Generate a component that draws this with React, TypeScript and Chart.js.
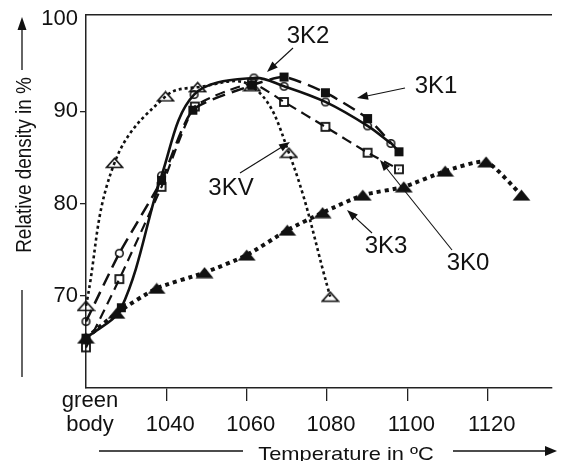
import React, { useEffect, useRef } from 'react';
import { Chart, registerables } from 'chart.js';

Chart.register(...registerables);

// ---- axes ----
const X_MIN = 1020; // "green body" position
const X_MAX = 1136;
const Y_MIN = 60;
const Y_MAX = 100.4;
const xTickValues = [1020, 1040, 1060, 1080, 1100, 1120];
const yTickValues = [70, 80, 90, 100];
const greenBodyLabel = ['green', 'body'];

// ---- series (temperature in °C, relative density in %) ----
const temp3KV = [1020, 1027.1, 1039.8, 1047.8, 1061.3, 1070.5, 1080.8];
const dens3KV = [68.9, 84.4, 91.6, 92.6, 92.7, 85.5, 69.9];

const temp3K3 = [1020, 1027.6, 1037.6, 1049.5, 1060.0, 1070.1, 1078.9, 1088.9, 1099.1, 1109.4, 1119.6, 1128.4];
const dens3K3 = [65.4, 68.1, 70.8, 72.5, 74.4, 77.1, 79.0, 80.9, 81.8, 83.5, 84.5, 80.9];

const temp3K2 = [1020, 1028.8, 1038.8, 1046.9, 1061.8, 1069.3, 1079.6, 1090.1, 1095.9];
const dens3K2 = [65.4, 68.7, 83.0, 91.8, 93.6, 92.7, 91.0, 88.4, 86.5];

const temp3K1 = [1020, 1028.3, 1038.8, 1046.6, 1061.3, 1069.3, 1079.6, 1090.1, 1097.9];
const dens3K1 = [67.2, 74.6, 82.5, 90.1, 92.8, 93.7, 92.0, 89.2, 85.6];

const temp3K0 = [1020, 1028.3, 1038.8, 1047.1, 1061.3, 1069.3, 1079.6, 1090.1, 1097.9];
const dens3K0 = [64.4, 71.8, 81.8, 90.5, 93.0, 91.0, 88.3, 85.5, 83.7];

// marker kinds per point (style)
const marks3K2 = ['fsq', 'fsq', 'ocirc', 'ocirc', 'ocirc', 'ocirc', 'ocirc', 'ocirc', 'ocirc'];
const marks3K1 = ['ocirc', 'ocirc', 'fsq', 'fsq', 'fsq', 'fsq', 'fsq', 'fsq', 'fsq'];

// ---- annotation labels (pixel layout) ----
const annotations = [
  { text: '3K2', x: 308, y: 43, from: [293, 48], to: [267, 72] },
  { text: '3K1', x: 436, y: 93, from: [405, 88], to: [357, 98] },
  { text: '3KV', x: 231, y: 195, from: [240, 173], to: [290, 142] },
  { text: '3K3', x: 386, y: 253, from: [372, 233], to: [347, 210] },
  { text: '3K0', x: 468, y: 270, from: [452, 250], to: [380, 160] },
];

const INK = '#111';
const FONT = "'Liberation Sans', Arial, Helvetica, sans-serif";

function makeMarker(kind: string): HTMLCanvasElement {
  const c = document.createElement('canvas');
  const ctx = c.getContext('2d')!;
  if (kind === 'osq') {
    c.width = 12; c.height = 12;
    ctx.strokeStyle = INK; ctx.lineWidth = 1.8;
    ctx.strokeRect(2, 2, 8, 8);
  } else if (kind === 'fsq') {
    c.width = 11; c.height = 11;
    ctx.fillStyle = INK;
    ctx.fillRect(1, 1, 9, 9);
  } else if (kind === 'ocirc') {
    c.width = 11; c.height = 11;
    ctx.strokeStyle = INK; ctx.lineWidth = 1.6;
    ctx.beginPath(); ctx.arc(5.5, 5.5, 3.8, 0, Math.PI * 2); ctx.stroke();
  } else if (kind === 'otri') {
    c.width = 19; c.height = 12;
    ctx.strokeStyle = INK; ctx.lineWidth = 1.7; ctx.lineJoin = 'miter';
    ctx.beginPath(); ctx.moveTo(1.5, 10.5); ctx.lineTo(9.5, 1.5); ctx.lineTo(17.5, 10.5); ctx.closePath(); ctx.stroke();
  } else {
    c.width = 19; c.height = 12;
    ctx.fillStyle = INK;
    ctx.beginPath(); ctx.moveTo(0.5, 11.5); ctx.lineTo(9.5, 0.5); ctx.lineTo(18.5, 11.5); ctx.closePath(); ctx.fill();
  }
  return c;
}

function drawArrow(ctx: CanvasRenderingContext2D, x1: number, y1: number, x2: number, y2: number, head: number, hw: number, lw: number) {
  const a = Math.atan2(y2 - y1, x2 - x1);
  const ca = Math.cos(a), sa = Math.sin(a);
  ctx.lineWidth = lw;
  ctx.beginPath();
  ctx.moveTo(x1, y1);
  ctx.lineTo(x2 - ca * head * 0.7, y2 - sa * head * 0.7);
  ctx.stroke();
  ctx.beginPath();
  ctx.moveTo(x2, y2);
  ctx.lineTo(x2 - head * ca + hw * sa, y2 - head * sa - hw * ca);
  ctx.lineTo(x2 - head * ca - hw * sa, y2 - head * sa + hw * ca);
  ctx.closePath();
  ctx.fill();
}

const decorPlugin = {
  id: 'decor',
  afterDraw(chart: any) {
    const ctx: CanvasRenderingContext2D = chart.ctx;
    const area = chart.chartArea;
    ctx.save();
    ctx.strokeStyle = '#222';
    ctx.fillStyle = INK;
    // top frame line
    ctx.lineWidth = 1.5;
    ctx.beginPath();
    ctx.moveTo(area.left, area.top - 0.5);
    ctx.lineTo(area.right, area.top - 0.5);
    ctx.stroke();

    // y-axis title with arrow
    ctx.strokeStyle = INK;
    drawArrow(ctx, 22, 70, 22, 17, 13, 4.5, 1.3);
    ctx.lineWidth = 1.3;
    ctx.beginPath(); ctx.moveTo(22, 290); ctx.lineTo(22, 377); ctx.stroke();
    ctx.save();
    ctx.translate(31, 165);
    ctx.rotate(-Math.PI / 2);
    ctx.scale(0.86, 1);
    ctx.font = `22px ${FONT}`;
    ctx.textAlign = 'center';
    ctx.textBaseline = 'alphabetic';
    ctx.fillText('Relative density in %', 0, 0);
    ctx.restore();

    // x-axis title with arrow
    ctx.lineWidth = 1.3;
    ctx.beginPath(); ctx.moveTo(99, 451); ctx.lineTo(243, 451); ctx.stroke();
    drawArrow(ctx, 453, 451, 557, 451, 12, 5, 1.3);
    ctx.save();
    ctx.translate(346, 459.5);
    ctx.scale(1.15, 1);
    ctx.font = `19px ${FONT}`;
    ctx.textAlign = 'center';
    ctx.textBaseline = 'alphabetic';
    ctx.fillText('Temperature in \u00BAC', 0, 0);
    ctx.restore();

    // series labels with leader arrows
    ctx.font = `24px ${FONT}`;
    ctx.textAlign = 'center';
    ctx.textBaseline = 'alphabetic';
    for (const an of annotations) {
      ctx.fillText(an.text, an.x, an.y);
      drawArrow(ctx, an.from[0], an.from[1], an.to[0], an.to[1], 11, 4, 1.1);
    }
    ctx.restore();
  },
};

const toPoints = (xs: number[], ys: number[]) => xs.map((x, i) => ({ x, y: ys[i] }));

export default function App() {
  const ref = useRef<HTMLCanvasElement>(null);
  useEffect(() => {
    const canvas = ref.current!;
    Chart.defaults.font.family = FONT;
    const M: Record<string, HTMLCanvasElement> = {
      osq: makeMarker('osq'),
      fsq: makeMarker('fsq'),
      ocirc: makeMarker('ocirc'),
      otri: makeMarker('otri'),
      ftri: makeMarker('ftri'),
    };
    const common = {
      borderColor: INK,
      backgroundColor: INK,
      fill: false,
      showLine: true,
      pointRadius: 5,
      clip: false as any,
    };
    const chart = new Chart(canvas, {
      type: 'line',
      data: {
        datasets: [
          {
            ...common,
            label: '3K3',
            data: toPoints(temp3K3, dens3K3),
            borderWidth: 4,
            borderDash: [4, 4],
            tension: 0.2,
            pointStyle: M.ftri,
          },
          {
            ...common,
            label: '3KV',
            data: toPoints(temp3KV, dens3KV),
            borderWidth: 2.6,
            borderDash: [3, 3],
            tension: 0.4,
            pointStyle: M.otri,
          },
          {
            ...common,
            label: '3K0',
            data: toPoints(temp3K0, dens3K0),
            borderWidth: 2.2,
            borderDash: [10, 6],
            tension: 0.15,
            pointStyle: M.osq,
          },
          {
            ...common,
            label: '3K1',
            data: toPoints(temp3K1, dens3K1),
            borderWidth: 2.5,
            borderDash: [13, 7],
            tension: 0.2,
            pointStyle: marks3K1.map((k) => M[k]),
          },
          {
            ...common,
            label: '3K2',
            data: toPoints(temp3K2, dens3K2),
            borderWidth: 2.6,
            tension: 0.35,
            pointStyle: marks3K2.map((k) => M[k]),
          },
        ] as any,
      },
      options: {
        responsive: false,
        devicePixelRatio: 1,
        animation: false,
        layout: { padding: { top: 15, left: 0, right: 0, bottom: 0 } },
        plugins: { legend: { display: false }, tooltip: { enabled: false } },
        events: [],
        scales: {
          x: {
            type: 'linear',
            min: X_MIN,
            max: X_MAX,
            afterBuildTicks: (s: any) => {
              s.ticks = xTickValues.map((v) => ({ value: v }));
            },
            afterFit: (s: any) => {
              s.height = 73;
            },
            ticks: {
              autoSkip: false,
              maxRotation: 0,
              minRotation: 0,
              padding: -12,
              labelOffset: 4,
              color: INK,
              font: { size: 22, lineHeight: 1.1 },
              callback: (v: any) => (v === X_MIN ? greenBodyLabel : ['', String(v)]),
            },
            grid: {
              drawOnChartArea: false,
              drawTicks: true,
              tickLength: 13,
              lineWidth: 1.3,
              color: (c: any) => (c.index === 0 ? 'rgba(0,0,0,0)' : '#222'),
            },
            border: { display: true, color: '#222', width: 1.5 },
          },
          y: {
            type: 'linear',
            min: Y_MIN,
            max: Y_MAX,
            afterBuildTicks: (s: any) => {
              s.ticks = yTickValues.map((v) => ({ value: v }));
            },
            afterFit: (s: any) => {
              s.width = 86;
            },
            ticks: {
              padding: 2,
              color: INK,
              font: { size: 22 },
              callback: (v: any) => String(v),
            },
            grid: {
              drawOnChartArea: false,
              tickLength: 6,
              lineWidth: 1.3,
              color: (c: any) => (c.tick && c.tick.value === 100 ? 'rgba(0,0,0,0)' : '#222'),
            },
            border: { display: true, color: '#222', width: 1.5 },
          },
        } as any,
      },
      plugins: [decorPlugin],
    });
    return () => chart.destroy();
  }, []);
  return (
    <div style={{ position: 'fixed', left: 0, top: 0, width: 561, height: 461, background: '#fff', overflow: 'hidden' }}>
      <canvas ref={ref} width={561} height={461} style={{ display: 'block', width: 561, height: 461 }} />
    </div>
  );
}
